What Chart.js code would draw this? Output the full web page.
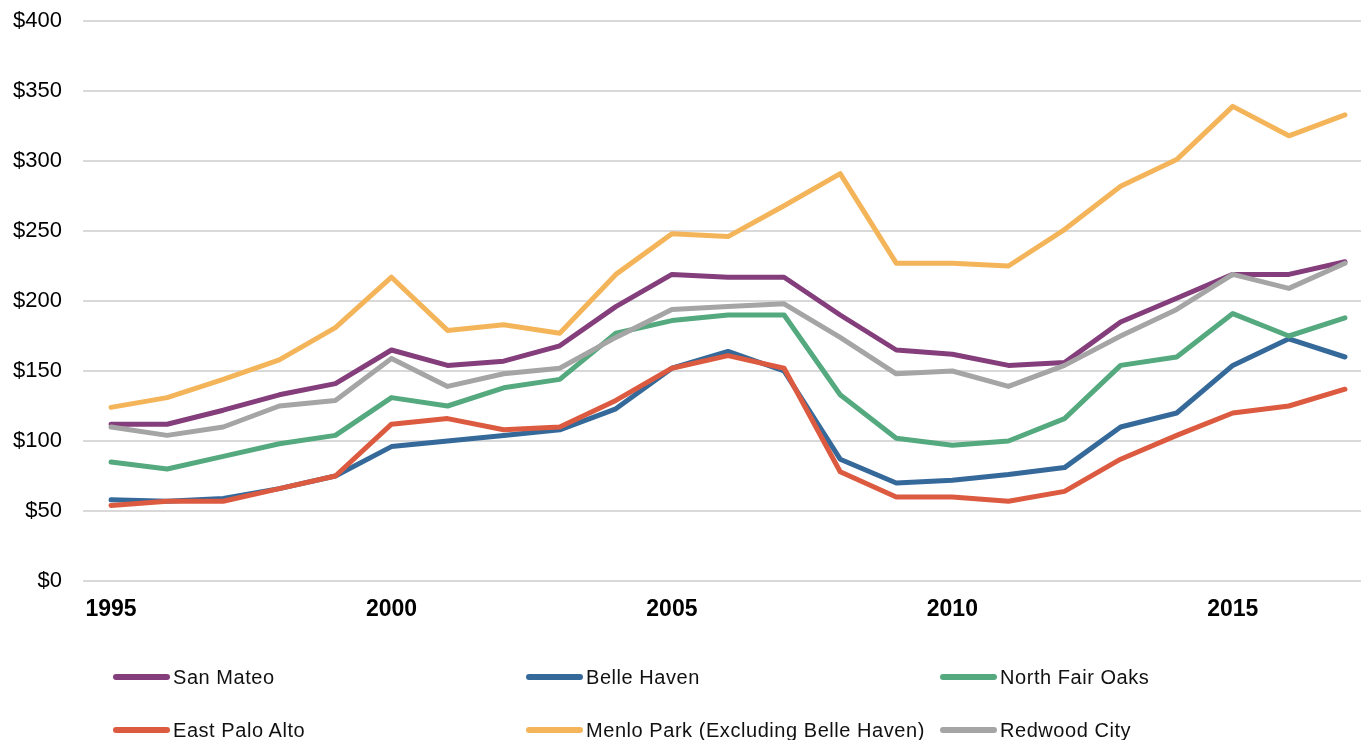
<!DOCTYPE html>
<html>
<head>
<meta charset="utf-8">
<script src="https://cdn.jsdelivr.net/npm/chart.js@4.4.1/dist/chart.umd.min.js"></script>
<style>
    body { margin: 0; background: #fff; overflow: hidden; width: 1361px; height: 740px; position: relative; }
    #wrap { position: absolute; left: 0; top: 0; width: 1373px; height: 626px; }
    #legend { position: absolute; left: 0; top: 0; width: 1361px; height: 740px; pointer-events: none;
        font-family: "Liberation Sans", Arial, sans-serif; font-size: 20px; letter-spacing: 0.55px; color: #111; }
    .item { position: absolute; display: flex; align-items: center; height: 30px; white-space: nowrap; }
    .swatch { display: inline-block; width: 57px; height: 6px; border-radius: 3px; margin-right: 3px; }
</style>
</head>
<body>
<div id="wrap"><canvas id="myChart"></canvas></div>
<div id="legend"></div>
<script>
const years = [1995, 1996, 1997, 1998, 1999, 2000, 2001, 2002, 2003, 2004, 2005, 2006,
    2007, 2008, 2009, 2010, 2011, 2012, 2013, 2014, 2015, 2016, 2017];

const sanMateo = [112, 112, 122, 133, 141, 165, 154, 157, 168, 196, 219, 217,
    217, 190, 165, 162, 154, 156, 185, 202, 219, 219, 228];
const belleHaven = [58, 57, 59, 66, 75, 96, 100, 104, 108, 123, 152, 164,
    150, 87, 70, 72, 76, 81, 110, 120, 154, 173, 160];
const northFairOaks = [85, 80, 89, 98, 104, 131, 125, 138, 144, 177, 186, 190,
    190, 133, 102, 97, 100, 116, 154, 160, 191, 175, 188];
const eastPaloAlto = [54, 57, 57, 66, 75, 112, 116, 108, 110, 129, 152, 161,
    152, 78, 60, 60, 57, 64, 87, 104, 120, 125, 137];
const menloPark = [124, 131, 144, 158, 181, 217, 179, 183, 177, 219, 248, 246,
    268, 291, 227, 227, 225, 251, 282, 301, 339, 318, 333];
const redwoodCity = [110, 104, 110, 125, 129, 159, 139, 148, 152, 174, 194, 196,
    198, 174, 148, 150, 139, 154, 175, 194, 219, 209, 227];

const yTicks = [0, 50, 100, 150, 200, 250, 300, 350, 400];

const seriesNames = ['San Mateo', 'Belle Haven', 'North Fair Oaks', 'East Palo Alto',
    'Menlo Park (Excluding Belle Haven)', 'Redwood City'];
const seriesColors = ['#843e7b', '#35699a', '#55a97e', '#dc5b40', '#f4b55a', '#a5a5a5'];
const seriesData = [sanMateo, belleHaven, northFairOaks, eastPaloAlto, menloPark, redwoodCity];

function createChart() {
    const ctx = document.getElementById('myChart').getContext('2d');
    const datasets = seriesData.map((values, i) => ({
        label: seriesNames[i],
        data: values,
        borderColor: seriesColors[i],
        backgroundColor: seriesColors[i],
        borderWidth: 5,
        pointRadius: 0,
        tension: 0,
        fill: false,
        borderCapStyle: 'round',
        borderJoinStyle: 'round',
        order: seriesData.length - 1 - i
    }));

    new Chart(ctx, {
        type: 'line',
        data: { labels: years, datasets: datasets },
        options: {
            responsive: true,
            maintainAspectRatio: false,
            animation: false,
            layout: { padding: { top: 21, right: 0, bottom: 0, left: 0 } },
            plugins: { legend: { display: false }, tooltip: { enabled: false } },
            scales: {
                x: {
                    offset: true,
                    grid: { display: false },
                    border: { display: false },
                    afterFit: function (scale) { scale.height = 45; },
                    ticks: {
                        autoSkip: false,
                        maxRotation: 0,
                        padding: 7,
                        color: '#000',
                        font: { family: '"Liberation Sans", Arial, sans-serif', size: 23, weight: 'bold' },
                        callback: function (value, index) {
                            return years[index] % 5 === 0 ? String(years[index]) : '';
                        }
                    }
                },
                y: {
                    min: yTicks[0],
                    max: yTicks[yTicks.length - 1],
                    // invisible tick marks give the gap between labels and plot
                    grid: { color: '#d9d9d9', lineWidth: 2, drawTicks: true, tickLength: 21, tickColor: 'rgba(0,0,0,0)' },
                    border: { display: false },
                    afterFit: function (scale) { scale.width = 83; },
                    afterBuildTicks: function (scale) {
                        scale.ticks = yTicks.map(v => ({ value: v }));
                    },
                    ticks: {
                        padding: 0,
                        color: '#000',
                        font: { family: '"Liberation Sans", Arial, sans-serif', size: 22 },
                        callback: function (value) { return '$' + value; }
                    }
                }
            }
        }
    });
}

function createLegend() {
    const legend = document.getElementById('legend');
    const colX = [113, 526, 940];
    const rowY = [662, 715];
    seriesNames.forEach((name, i) => {
        const item = document.createElement('div');
        item.className = 'item';
        item.style.left = colX[i % 3] + 'px';
        item.style.top = rowY[Math.floor(i / 3)] + 'px';
        item.innerHTML = '<span class="swatch" style="background:' + seriesColors[i] + '"></span>' + name;
        legend.appendChild(item);
    });
}

createChart();
createLegend();
</script>
</body>
</html>
